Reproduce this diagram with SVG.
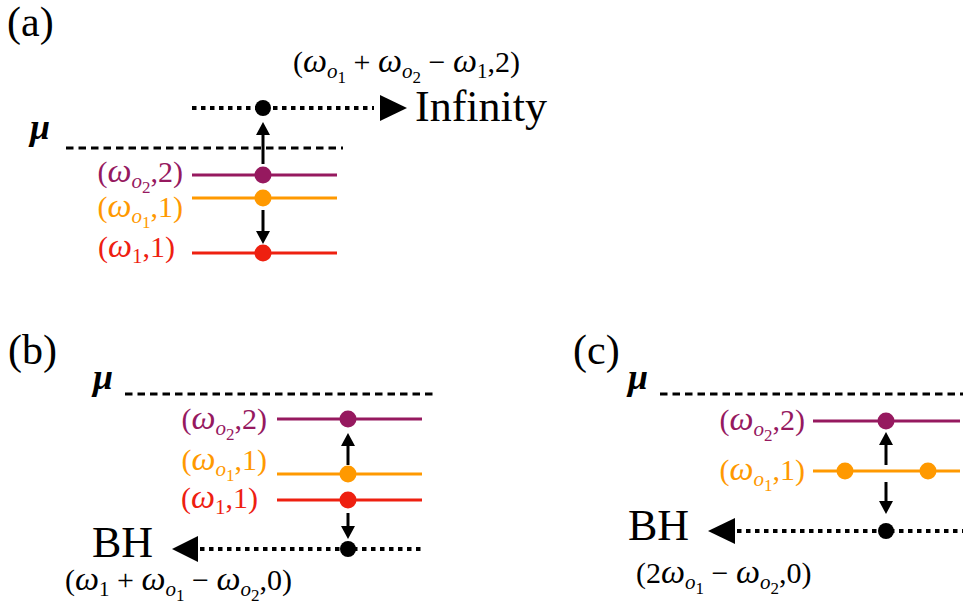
<svg xmlns="http://www.w3.org/2000/svg" width="963" height="610" viewBox="0 0 963 610">
<style>
text{font-family:"Liberation Serif","Times New Roman",serif;fill:#000}
.panel{font-size:42px}
.big{font-size:44px}
.mu{font-size:36px;font-style:italic;font-weight:bold}
.lab{font-size:30px}
.w{font-style:italic;font-size:34px}
.s{font-size:21px}
.i{font-style:italic}
.ss{font-size:17px}
.pu{fill:#96195F}.or{fill:#FF9900}.re{fill:#EE2010}
.lpu{stroke:#96195F;stroke-width:3.2}
.lor{stroke:#FF9900;stroke-width:3.2}
.lre{stroke:#EE2010;stroke-width:3.2}
.dot{stroke:#000;stroke-width:4;stroke-dasharray:4.5 4.5;fill:none}
.dash{stroke:#000;stroke-width:3;stroke-dasharray:7.5 5;fill:none}
.arr{stroke:#000;stroke-width:3;fill:none;marker-end:url(#ah)}
</style>
<defs>
<marker id="ah" markerUnits="userSpaceOnUse" viewBox="0 0 13 14" markerWidth="13" markerHeight="14" refX="6" refY="7" orient="auto">
<path d="M0,0 L13,7 L0,14 z" fill="#000"/>
</marker>
</defs>

<g id="panel-a">
<text class="panel" x="7" y="36">(a)</text>
<text class="mu" x="30" y="139">μ</text>
<g id="a-infinity">
<text class="big" x="415" y="121">Infinity</text>
<text class="lab" x="293" y="72">(<tspan class="w">ω</tspan><tspan class="s i" dy="6">o</tspan><tspan class="ss" dy="5">1</tspan><tspan dy="-11"> + </tspan><tspan class="w">ω</tspan><tspan class="s i" dy="6">o</tspan><tspan class="ss" dy="5">2</tspan><tspan dy="-11"> − </tspan><tspan class="w">ω</tspan><tspan class="s" dy="6">1</tspan><tspan dy="-6">,2)</tspan></text>
</g>
<g id="a-level-o2">
<line class="lpu" x1="192" y1="175" x2="337" y2="175"/>
<text class="lab pu" x="183" y="182" text-anchor="end">(<tspan class="w">ω</tspan><tspan class="s i" dy="6">o</tspan><tspan class="ss" dy="5">2</tspan><tspan dy="-11">,2)</tspan></text>
</g>
<g id="a-level-o1">
<line class="lor" x1="192" y1="198" x2="337" y2="198"/>
<text class="lab or" x="183" y="217" text-anchor="end">(<tspan class="w">ω</tspan><tspan class="s i" dy="6">o</tspan><tspan class="ss" dy="5">1</tspan><tspan dy="-11">,1)</tspan></text>
</g>
<g id="a-level-1">
<line class="lre" x1="192" y1="253" x2="337" y2="253"/>
<text class="lab re" x="175" y="257" text-anchor="end">(<tspan class="w">ω</tspan><tspan class="s" dy="6">1</tspan><tspan dy="-6">,1)</tspan></text>
</g>
</g>

<g id="panel-b">
<text class="panel" x="8" y="364">(b)</text>
<text class="mu" x="93" y="389">μ</text>
<g id="b-bh">
<text class="big" x="92" y="557">BH</text>
<text class="lab" x="65" y="590">(<tspan class="w">ω</tspan><tspan class="s" dy="6">1</tspan><tspan dy="-6"> + </tspan><tspan class="w">ω</tspan><tspan class="s i" dy="6">o</tspan><tspan class="ss" dy="5">1</tspan><tspan dy="-11"> − </tspan><tspan class="w">ω</tspan><tspan class="s i" dy="6">o</tspan><tspan class="ss" dy="5">2</tspan><tspan dy="-11">,0)</tspan></text>
</g>
<g id="b-level-o2">
<line class="lpu" x1="277" y1="419" x2="422" y2="419"/>
<text class="lab pu" x="267" y="429" text-anchor="end">(<tspan class="w">ω</tspan><tspan class="s i" dy="6">o</tspan><tspan class="ss" dy="5">2</tspan><tspan dy="-11">,2)</tspan></text>
</g>
<g id="b-level-o1">
<line class="lor" x1="277" y1="474" x2="422" y2="474"/>
<text class="lab or" x="267" y="470" text-anchor="end">(<tspan class="w">ω</tspan><tspan class="s i" dy="6">o</tspan><tspan class="ss" dy="5">1</tspan><tspan dy="-11">,1)</tspan></text>
</g>
<g id="b-level-1">
<line class="lre" x1="277" y1="500" x2="422" y2="500"/>
<text class="lab re" x="258" y="508" text-anchor="end">(<tspan class="w">ω</tspan><tspan class="s" dy="6">1</tspan><tspan dy="-6">,1)</tspan></text>
</g>
</g>

<g id="panel-c">
<text class="panel" x="573" y="364">(c)</text>
<text class="mu" x="628" y="389">μ</text>
<g id="c-bh">
<text class="big" x="628" y="540">BH</text>
<text class="lab" x="636" y="583">(2<tspan class="w">ω</tspan><tspan class="s i" dy="6">o</tspan><tspan class="ss" dy="5">1</tspan><tspan dy="-11"> − </tspan><tspan class="w">ω</tspan><tspan class="s i" dy="6">o</tspan><tspan class="ss" dy="5">2</tspan><tspan dy="-11">,0)</tspan></text>
</g>
<g id="c-level-o2">
<line class="lpu" x1="813" y1="421" x2="960" y2="421"/>
<text class="lab pu" x="805" y="430" text-anchor="end">(<tspan class="w">ω</tspan><tspan class="s i" dy="6">o</tspan><tspan class="ss" dy="5">2</tspan><tspan dy="-11">,2)</tspan></text>
</g>
<g id="c-level-o1">
<line class="lor" x1="813" y1="471" x2="960" y2="471"/>
<text class="lab or" x="805" y="480" text-anchor="end">(<tspan class="w">ω</tspan><tspan class="s i" dy="6">o</tspan><tspan class="ss" dy="5">1</tspan><tspan dy="-11">,1)</tspan></text>
</g>
</g>

<g id="connectors">
<line class="dash" x1="66" y1="148" x2="343" y2="148"/>
<line class="dot" x1="192" y1="108" x2="374" y2="108"/>
<polygon points="380,95 407,108 380,121" fill="#000"/>
<line class="arr" x1="263" y1="164" x2="263" y2="129"/>
<line class="arr" x1="263" y1="210" x2="263" y2="237"/>

<line class="dash" x1="125" y1="394" x2="435" y2="394"/>
<line class="dot" x1="200" y1="549" x2="423" y2="549"/>
<polygon points="198,536 172,549 198,562" fill="#000"/>
<line class="arr" x1="348" y1="465" x2="348" y2="440"/>
<line class="arr" x1="348" y1="513" x2="348" y2="532"/>

<line class="dash" x1="660" y1="394" x2="963" y2="394"/>
<line class="dot" x1="737" y1="531" x2="963" y2="531"/>
<polygon points="735,518 708,531 735,544" fill="#000"/>
<line class="arr" x1="886" y1="465" x2="886" y2="439"/>
<line class="arr" x1="886" y1="482" x2="886" y2="507"/>
</g>

<g id="dots">
<circle cx="263" cy="108" r="8" fill="#000"/>
<circle cx="263" cy="175" r="8.5" fill="#96195F"/>
<circle cx="263" cy="198" r="8.5" fill="#FF9900"/>
<circle cx="263" cy="253" r="8.5" fill="#EE2010"/>
<circle cx="348" cy="419" r="8.5" fill="#96195F"/>
<circle cx="348" cy="474" r="8.5" fill="#FF9900"/>
<circle cx="348" cy="500" r="8.5" fill="#EE2010"/>
<circle cx="348" cy="549" r="8" fill="#000"/>
<circle cx="886" cy="421" r="8.5" fill="#96195F"/>
<circle cx="845" cy="471" r="8.5" fill="#FF9900"/>
<circle cx="928" cy="471" r="8.5" fill="#FF9900"/>
<circle cx="886" cy="531" r="8" fill="#000"/>
</g>
</svg>
